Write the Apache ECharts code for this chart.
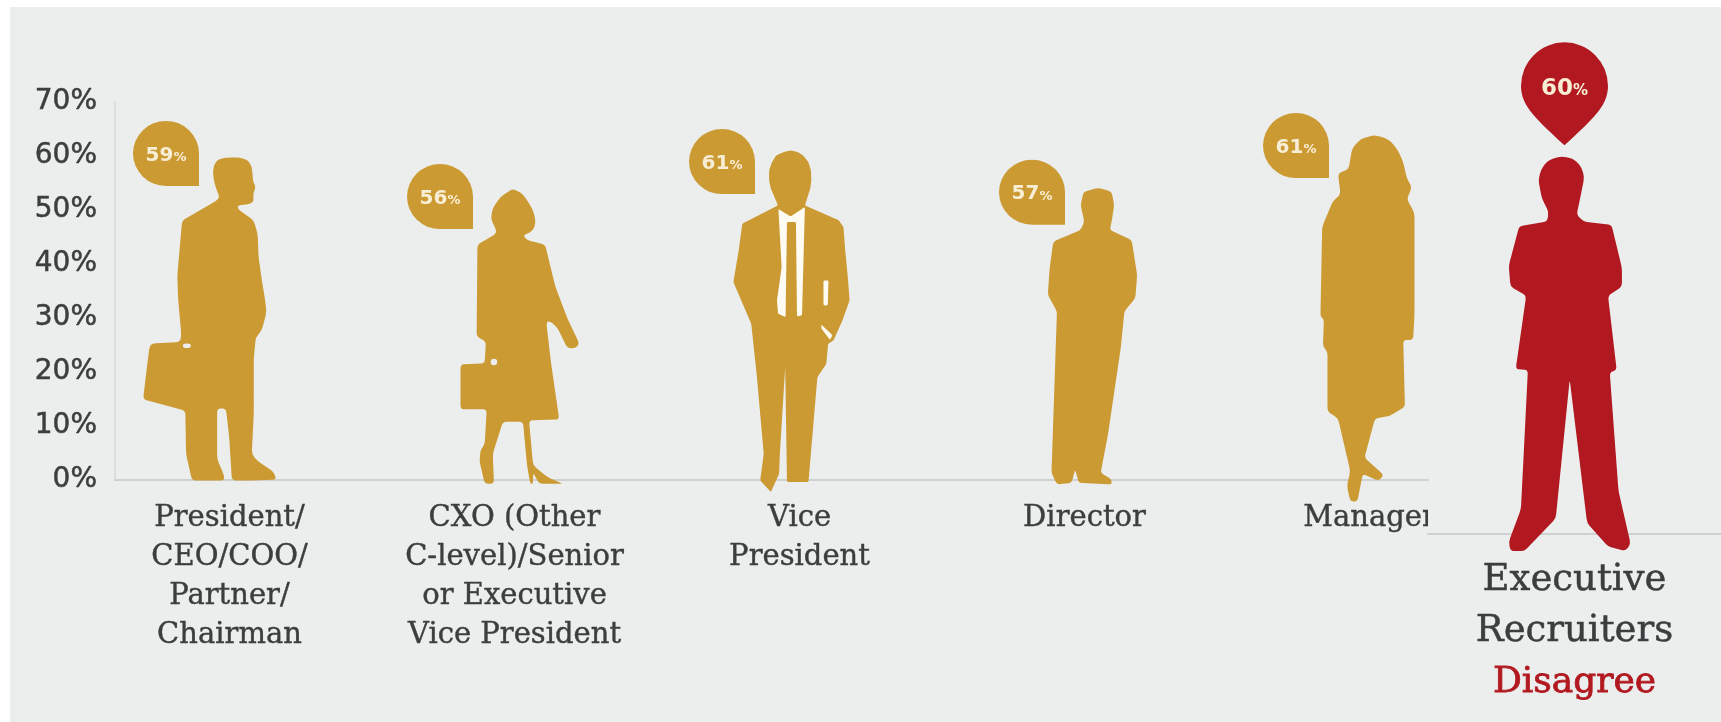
<!DOCTYPE html>
<html>
<head>
<meta charset="utf-8">
<style>
  html, body { margin: 0; padding: 0; background: #ffffff; }
  #panel { position: absolute; left: 10px; top: 7px; width: 1711px; height: 715px; background: #eceeee; }
  #chart { position: absolute; left: 0; top: 0; width: 1721px; height: 722px; }
</style>
<script src="https://cdn.jsdelivr.net/npm/echarts@6/dist/echarts.min.js"></script>
</head>
<body>
<div id="panel"></div>
<div id="chart"></div>
<script>
// Share of respondents who disagree, by seniority
const seniorityLabels = [
  'President/\nCEO/COO/\nPartner/\nChairman',
  'CXO (Other\nC-level)/Senior\nor Executive\nVice President',
  'Vice\nPresident',
  'Director',
  'Manager'
];
const seniorityValues = [59, 56, 61, 57, 61];
const recruiterLabels = ['Executive\nRecruiters\n{red|Disagree}'];
const recruiterValues = [60];
const tickStep = 10;
const axisMax = 70;

const GOLD = '#cc9a33';
const RED = '#b1181f';
const INK = '#3b3d3e';

// Turns an outline into an SVG path with slightly eased corners; holes run the other way round
function outline(pts, holes, ease) {
  const r = ease || 9;
  const toward = (a, b) => {
    const dx = b[0] - a[0], dy = b[1] - a[1];
    const len = Math.hypot(dx, dy) || 1;
    const t = Math.min(r, len / 2) / len;
    return [a[0] + dx * t, a[1] + dy * t];
  };
  const ring = (p) => {
    const n = p.length;
    let d = '';
    for (let i = 0; i < n; i++) {
      const a = toward(p[i], p[(i + n - 1) % n]);
      const b = toward(p[i], p[(i + 1) % n]);
      d += (i ? 'L' : 'M') + a[0] + ' ' + a[1] + 'Q' + p[i][0] + ' ' + p[i][1] + ' ' + b[0] + ' ' + b[1];
    }
    return d + 'Z';
  };
  let d = ring(pts);
  (holes || []).forEach((h) => { d += ring(h.slice().reverse()); });
  return 'path://' + d;
}

// Silhouettes
const manWithCase = outline([
  [545,350],[560,344],[580,342],[605,343],[625,348],[635,362],[637,380],[638,395],[646,408],[638,420],[640,440],[625,445],[600,447],[600,455],
  [640,480],[650,510],[652,560],[662,620],[668,650],[672,680],[660,720],[645,735],[640,780],[640,900],[635,990],
  [650,1005],[690,1028],[697,1045],[640,1047],[585,1047],[578,950],[570,890],[548,890],[548,1000],[565,1035],[566,1047],[485,1047],
  [470,990],[468,895],[362,870],[378,755],[385,748],[455,745],[458,730],[450,650],[448,600],[460,480],
  [540,440],[555,430],[545,410],[538,385],[538,365]
], [[[462,748],[482,748],[482,758],[462,758]]]);

const womanWithCase = outline([
  [1295,408],[1320,420],[1335,440],[1345,455],[1352,480],[1345,500],[1320,510],[1330,520],[1375,530],[1400,620],[1430,690],
  [1460,745],[1450,755],[1430,755],[1405,710],[1385,695],[1378,700],[1390,790],[1410,910],[1335,912],[1345,1010],
  [1380,1035],[1420,1050],[1360,1050],[1345,1025],[1345,1050],[1338,1050],[1330,1010],[1320,915],[1270,915],
  [1245,985],[1248,1050],[1225,1050],[1212,1000],[1215,975],[1225,965],[1230,888],[1165,888],[1165,790],[1225,788],
  [1228,740],[1205,730],[1207,530],[1255,505],[1250,490],[1240,475],[1245,450],[1265,425]
], [[[1240,778],[1256,778],[1256,792],[1240,792]]]);

const manInSuit = outline([
  [480,150],[500,155],[515,165],[530,185],[537,210],[538,240],[535,265],[520,315],[615,360],[628,380],[632,440],[640,530],[645,600],[625,660],[600,720],[585,730],
  [580,790],[555,830],[530,1145],[470,1145],[465,800],[450,1060],[448,1120],[425,1175],[395,1140],[405,1060],
  [385,820],[370,670],[320,545],[335,450],[345,370],[445,315],[425,265],[420,240],[420,210],[428,185],[440,165],[460,155]
], [
  [[446,326],[480,348],[520,320],[512,645],[498,648],[495,365],[470,365],[466,650],[445,640],[442,600],[455,500]],
  [[410,600],[385,615],[372,660],[385,660],[395,625],[412,610]],
  [[572,540],[586,540],[584,615],[572,615]],
  [[566,672],[598,705],[590,718],[566,684]]
], 4);
// Light shirt showing through the openings of the suit
const suitShirt = outline([[445,328],[515,325],[610,400],[600,650],[590,720],[380,680],[365,600],[370,500]], null, 2);

const manStanding = outline([
  [1340,258],[1375,270],[1382,310],[1375,360],[1370,385],[1430,415],[1445,520],[1440,590],[1410,630],[1400,740],
  [1365,1000],[1345,1115],[1375,1135],[1375,1150],[1285,1145],[1275,1105],[1265,1145],[1225,1150],[1210,1115],
  [1225,630],[1200,580],[1205,500],[1215,420],[1290,385],[1300,360],[1290,310],[1298,270]
]);

const womanStanding = outline([
  [555,292],[582,296],[605,305],[625,325],[640,350],[650,385],[665,405],[650,430],[672,460],[672,680],[668,735],[640,735],[645,880],
  [600,900],[560,905],[530,990],[585,1028],[570,1040],[525,1025],[510,1085],[490,1085],[480,1050],[490,1020],
  [455,905],[425,890],[425,760],[412,750],[415,690],[405,685],[410,490],[440,435],[462,420],[455,375],[485,365],
  [495,320],[520,300]
]);

const armsCrossed = outline([
  [1105,340],[1130,342],[1150,350],[1165,365],[1172,385],[1160,430],[1150,465],[1170,480],[1250,487],[1280,580],[1280,620],[1240,640],
  [1265,800],[1245,805],[1270,1060],[1305,1175],[1290,1190],[1240,1180],[1180,1130],[1130,820],[1090,1120],
  [1000,1190],[960,1190],[955,1170],[990,1100],[1010,800],[975,798],[1005,640],[960,620],[955,575],[985,490],
  [1065,480],[1070,460],[1050,430],[1040,390],[1048,368],[1065,350],[1085,343]
]);

const bubbleTail = 'path://M50 0A50 50 0 1 0 50 100L100 100L100 50A50 50 0 0 0 50 0Z';
const bubblePin = 'path://M50 0A50 50 0 0 1 100 50C100 74 80 90 50 118C20 90 0 74 0 50A50 50 0 0 1 50 0Z';

// Figure drawing styles, one per category
const seniorityFigures = [
  { symbol: manWithCase,   width: 132, length: '101.4%', dx: -20, dy: -4 },
  { symbol: womanWithCase, width: 118, length: '97.3%',  dx: 5,   dy: 12 },
  { symbol: manInSuit,     width: 116, length: '103.5%', dx: -8,  dy: 0 },
  { symbol: manStanding,   width: 89,  length: '96.2%',  dx: 8,   dy: 16 },
  { symbol: womanStanding, width: 94,  length: '111.1%', dx: -2,  dy: -15 }
];
const seniorityBubbles = [
  { dx: -63.5, dy: -8 },
  { dx: -74.5, dy: 19 },
  { dx: -77.5, dy: 11 },
  { dx: -52.5, dy: 20 },
  { dx: -73.5, dy: -5 }
];

const bubbleLabel = {
  show: true,
  position: 'inside',
  offset: [0, 2],
  color: '#f8eed6',
  formatter: (p) => '{n|' + p.value[1] + '}{s|%}',
  rich: {
    n: { fontFamily: 'DejaVu Sans', fontSize: 20, fontWeight: 'bold', color: '#f8eed6' },
    s: { fontFamily: 'DejaVu Sans', fontSize: 13, fontWeight: 'bold', color: '#f8eed6', padding: [4, 0, 0, 0] }
  }
};

const option = {
  animation: false,
  backgroundColor: 'transparent',
  grid: [
    { left: 87, width: 1425, top: 102, height: 378 },
    { left: 115, width: 1313, top: 102, height: 378 },
    { left: 1428, width: 293, top: 94, height: 440 }
  ],
  xAxis: [
    {
      type: 'category', gridIndex: 0, data: seniorityLabels,
      axisLine: { show: false }, axisTick: { show: false },
      axisLabel: {
        interval: 0, margin: 19, color: INK, lineHeight: 39,
        fontFamily: 'DejaVu Serif', fontSize: 29,
        textBorderColor: INK, textBorderWidth: 0.4
      }
    },
    {
      type: 'category', gridIndex: 1, data: [''],
      axisLine: { show: true, lineStyle: { color: '#cfd0d0', width: 2 } },
      axisTick: { show: false }, axisLabel: { show: false }
    },
    {
      type: 'category', gridIndex: 2, data: recruiterLabels,
      axisLine: { show: true, lineStyle: { color: '#cfd0d0', width: 2 } },
      axisTick: { show: false },
      axisLabel: {
        interval: 0, margin: 21, color: INK, lineHeight: 51,
        fontFamily: 'DejaVu Serif', fontSize: 37,
        textBorderColor: INK, textBorderWidth: 0.5,
        rich: {
          red: {
            color: RED, fontFamily: 'DejaVu Serif', fontSize: 36, lineHeight: 51,
            textBorderColor: RED, textBorderWidth: 0.8
          }
        }
      }
    }
  ],
  yAxis: [
    {
      type: 'value', gridIndex: 0, min: 0, max: axisMax, interval: tickStep, offset: -28,
      splitLine: { show: false }, axisTick: { show: false },
      axisLine: { show: true, lineStyle: { color: '#dcdddd', width: 2 } },
      axisLabel: {
        formatter: '{value}%', margin: 18, color: INK,
        fontFamily: 'DejaVu Sans', fontSize: 28,
        textBorderColor: INK, textBorderWidth: 0.5
      }
    },
    { type: 'value', gridIndex: 1, min: 0, max: axisMax, interval: tickStep, show: false },
    { type: 'value', gridIndex: 2, min: 0, max: axisMax, interval: tickStep, show: false }
  ],
  series: [
    {
      type: 'pictorialBar', name: 'Shirt', xAxisIndex: 0, yAxisIndex: 0,
      symbolPosition: 'end', z: 2,
      itemStyle: { color: '#fdfbf2' },
      data: seniorityValues.map((v, i) => (i === 2 ? {
        value: v,
        symbol: suitShirt,
        symbolSize: [87, 135],
        symbolOffset: [-5.5, 55]
      } : { value: '-' }))
    },
    {
      type: 'pictorialBar', name: 'Disagree by seniority', xAxisIndex: 0, yAxisIndex: 0,
      symbolPosition: 'end', z: 3, barGap: '-100%',
      itemStyle: { color: GOLD },
      data: seniorityValues.map((v, i) => ({
        value: v,
        symbol: seniorityFigures[i].symbol,
        symbolSize: [seniorityFigures[i].width, seniorityFigures[i].length],
        symbolOffset: [seniorityFigures[i].dx, seniorityFigures[i].dy]
      }))
    },
    {
      type: 'pictorialBar', name: 'Executive recruiters', xAxisIndex: 2, yAxisIndex: 2,
      symbolPosition: 'end', z: 3,
      itemStyle: { color: RED },
      data: recruiterValues.map((v) => ({
        value: v,
        symbol: armsCrossed,
        symbolSize: [121, '104.5%'],
        symbolOffset: [-5, 0]
      }))
    },
    {
      type: 'scatter', name: 'Seniority value', xAxisIndex: 0, yAxisIndex: 0, z: 4,
      itemStyle: { color: GOLD, opacity: 1 }, label: bubbleLabel,
      data: seniorityValues.map((v, i) => ({
        value: [i, v],
        symbol: bubbleTail,
        symbolSize: [66, 65],
        symbolOffset: [seniorityBubbles[i].dx, seniorityBubbles[i].dy]
      }))
    },
    {
      type: 'scatter', name: 'Recruiter value', xAxisIndex: 2, yAxisIndex: 2, z: 4,
      itemStyle: { color: RED, opacity: 1 },
      label: Object.assign({}, bubbleLabel, {
        offset: [0, -5],
        rich: {
          n: { fontFamily: 'DejaVu Sans', fontSize: 23, fontWeight: 'bold', color: '#f8eed6' },
          s: { fontFamily: 'DejaVu Sans', fontSize: 15, fontWeight: 'bold', color: '#f8eed6', padding: [4, 0, 0, 0] }
        }
      }),
      data: recruiterValues.map((v) => ({
        value: [0, v],
        symbol: bubblePin,
        symbolSize: [87, 103],
        symbolOffset: [-10, -63]
      }))
    }
  ],
  // The left panel ends abruptly, cutting off the last category label
  graphic: [
    {
      type: 'rect', z: 100, silent: true,
      shape: { x: 1428, y: 490, width: 60, height: 40 },
      style: { fill: '#eceeee' }
    }
  ]
};

const chart = echarts.init(document.getElementById('chart'), null, { renderer: 'canvas' });
chart.setOption(option);
</script>
</body>
</html>
